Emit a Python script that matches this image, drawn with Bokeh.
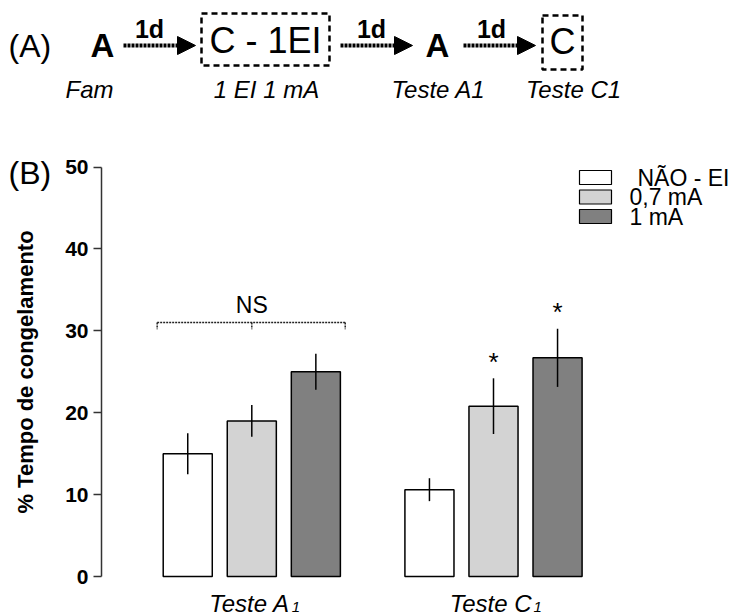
from bokeh.plotting import figure
from bokeh.models import Range1d, LinearAxis, FixedTicker, Arrow, NormalHead
from bokeh.core.properties import value
from bokeh.embed import file_html
from bokeh.resources import INLINE

# ---------------- data (panel B) ----------------
groups = ["Teste A", "Teste C"]
group_subs = ["1", "1"]
series = ["NÃO - EI", "0,7 mA", "1 mA"]
colors = ["#ffffff", "#d3d3d3", "#808080"]
mean_A = [15.0, 19.0, 25.0]
sem_A = [2.5, 1.95, 2.2]
mean_C = [10.6, 20.8, 26.7]
sem_C = [1.4, 3.4, 3.55]
signif_C = ["", "*", "*"]
y_ticks = [0, 10, 20, 30, 40, 50]
ns_label = "NS"
y_label = "% Tempo de congelamento"

# ---------------- schematic (panel A) ----------------
steps_bold = ["A", "A"]
steps_box = ["C - 1EI", "C"]
arrow_label = "1d"
step_captions = ["Fam", "1 EI 1 mA", "Teste A1", "Teste C1"]
panel_labels = ["(A)", "(B)"]

FONT = "Liberation Sans"
W, H = 734, 616

p = figure(width=W, height=H,
           x_range=Range1d(-1.0397, 1.9971), y_range=Range1d(-4.884, 70.33),
           x_axis_type=None, y_axis_type=None,
           output_backend="svg", toolbar_location=None,
           min_border_left=0, min_border_right=0, min_border_top=0, min_border_bottom=0)
p.outline_line_color = None
p.background_fill_color = "white"
p.border_fill_color = "white"
# pixel-space ranges for the schematic and legend
p.extra_x_ranges = {"px": Range1d(0, W)}
p.extra_y_ranges = {"px": Range1d(H, 0)}

yaxis = LinearAxis(ticker=FixedTicker(ticks=y_ticks), bounds=(0, 50), axis_label=y_label,
                   fixed_location=-0.6218)
yaxis.axis_label_text_font = FONT
yaxis.axis_label_text_font_style = "bold"
yaxis.axis_label_text_font_size = "22px"
yaxis.axis_label_text_color = "black"
yaxis.axis_label_standoff = 24
yaxis.major_label_text_font = FONT
yaxis.major_label_text_font_style = "bold"
yaxis.major_label_text_font_size = "21px"
yaxis.major_label_text_color = "black"
yaxis.major_label_standoff = 5
yaxis.major_tick_out = 8
yaxis.major_tick_in = 0
yaxis.minor_tick_out = 0
yaxis.minor_tick_in = 0
yaxis.axis_line_width = 1.5
yaxis.axis_line_color = "#333333"
yaxis.major_tick_line_width = 1.5
yaxis.major_tick_line_color = "#333333"
p.add_layout(yaxis, "left")

offsets = [-0.265, 0.0, 0.265]
bar_w = 0.203
means = [mean_A, mean_C]
sems = [sem_A, sem_C]

xs, tops, fills, lows, highs = [], [], [], [], []
for gi in range(len(groups)):
    for si in range(len(series)):
        xs.append(gi + offsets[si])
        tops.append(means[gi][si])
        fills.append(colors[si])
        lows.append(means[gi][si] - sems[gi][si])
        highs.append(means[gi][si] + sems[gi][si])

p.vbar(x=xs, top=tops, bottom=0, width=bar_w, fill_color=fills,
       line_color="black", line_width=1.5)
p.segment(x0=xs, y0=lows, x1=xs, y1=highs, line_color="black", line_width=1.5)

# NS bracket over group A
top_A = max(m + s for m, s in zip(mean_A, sem_A))
ns_y = top_A + 3.8
bl = offsets[0] - bar_w / 2 - 0.025
br = offsets[2] + bar_w / 2 + 0.02
p.multi_line(xs=[[bl, br], [bl, bl], [0, 0], [br, br]],
             ys=[[ns_y, ns_y], [ns_y, ns_y - 0.8], [ns_y, ns_y - 0.8], [ns_y, ns_y - 0.8]],
             line_color="#222222", line_width=1.5, line_dash="2 1")
p.text(x=[0], y=[ns_y + 2.1], text=[ns_label], text_font=value(FONT),
       text_font_size="23px", text_align="center", text_baseline="middle")

# significance stars over group C
sx, sy, st = [], [], []
for si in range(len(series)):
    if signif_C[si]:
        sx.append(1 + offsets[si])
        sy.append(mean_C[si] + sem_C[si] + 2.0)
        st.append(signif_C[si])
p.text(x=sx, y=sy, text=st, text_font=value(FONT), text_font_size="26px",
       text_align="center", text_baseline="middle")

# group labels with subscripts
gx = list(range(len(groups)))
p.text(x=gx, y=[-3.3] * 2, text=groups, text_font=value(FONT), text_font_style="italic",
       text_font_size="24px", text_align="right", text_baseline="alphabetic", x_offset=38)
p.text(x=gx, y=[-3.3] * 2, text=group_subs, text_font=value(FONT), text_font_style="italic",
       text_font_size="15px", text_align="left", text_baseline="alphabetic", x_offset=40, y_offset=3)

# legend (manual)
leg_top = [170, 189.5, 209]
p.quad(left=[579] * 3, right=[611] * 3, top=leg_top, bottom=[t + 14 for t in leg_top],
       fill_color=colors, line_color="black", line_width=1.2,
       x_range_name="px", y_range_name="px")
p.text(x=[637, 629, 629], y=[t + 7 for t in leg_top], text=series, text_font=value(FONT),
       text_font_size="23px", text_align="left", text_baseline="middle",
       x_range_name="px", y_range_name="px")

# ---------------- schematic drawing ----------------
p.text(x=[8, 8], y=[45, 172], text=panel_labels, text_font=value(FONT),
       text_font_size="32px", text_align="left", text_baseline="middle",
       x_range_name="px", y_range_name="px")
p.text(x=[102, 437], y=[45, 45], text=steps_bold, text_font=value(FONT), text_font_style="bold",
       text_font_size="33px", text_align="center", text_baseline="middle",
       x_range_name="px", y_range_name="px")
p.text(x=[89, 266, 438, 573], y=[89] * 4, text=step_captions, text_font=value(FONT),
       text_font_style="italic", text_font_size="24px", text_align="center",
       text_baseline="middle", x_range_name="px", y_range_name="px")
p.text(x=[149, 371, 491], y=[28] * 3, text=[arrow_label] * 3, text_font=value(FONT),
       text_font_style="bold", text_font_size="25px", text_align="center",
       text_baseline="middle", x_range_name="px", y_range_name="px")
for x0, x1 in [(123, 195), (340, 412), (463, 535)]:
    p.add_layout(Arrow(x_start=x0, y_start=45, x_end=x1, y_end=45,
                       x_range_name="px", y_range_name="px",
                       line_width=4, line_dash="3 1", line_color="black",
                       end=NormalHead(size=18, fill_color="black", line_color="black")))
p.quad(left=[201, 542], right=[329, 582], top=[13, 15], bottom=[65, 69],
       fill_alpha=0, line_color="black", line_width=2.5, line_dash="6 4",
       x_range_name="px", y_range_name="px")
p.text(x=[265, 562], y=[40, 41], text=steps_box, text_font=value(FONT),
       text_font_size="36px", text_align="center", text_baseline="middle",
       x_range_name="px", y_range_name="px")

open("out.html", "w").write(file_html(p, INLINE))
